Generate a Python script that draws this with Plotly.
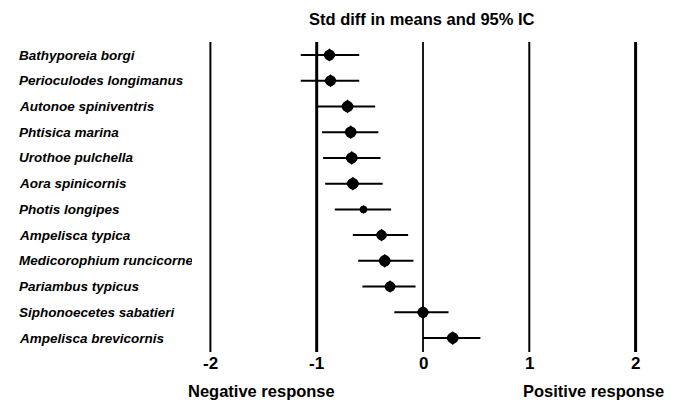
import plotly.graph_objects as go

species = ["Bathyporeia borgi", "Perioculodes longimanus", "Autonoe spiniventris",
           "Phtisica marina", "Urothoe pulchella", "Aora spinicornis", "Photis longipes",
           "Ampelisca typica", "Medicorophium runcicorne", "Pariambus typicus",
           "Siphonoecetes sabatieri", "Ampelisca brevicornis"]
means = [-0.88, -0.87, -0.71, -0.68, -0.67, -0.66, -0.56, -0.39, -0.36, -0.31, 0.0, 0.28]
lower = [-1.15, -1.15, -1.00, -0.95, -0.94, -0.92, -0.83, -0.66, -0.61, -0.57, -0.27, 0.00]
upper = [-0.60, -0.60, -0.45, -0.42, -0.40, -0.38, -0.30, -0.14, -0.09, -0.07, 0.24, 0.54]
marker_sizes = [11, 11, 11.5, 11.5, 11.5, 11.5, 7.5, 10.5, 11.5, 10.5, 11, 11.5]
tick_vals = [-2, -1, 0, 1, 2]
tick_text = ["-2", "-1", "0", "1", "2"]

rows = list(range(len(species)))
FONT = "Liberation Sans, Arial, sans-serif"

# page body has an 8px margin; figure is sized to fit inside the window
W, H, OFF = 669, 392, 8
PX_PER_UNIT, X0_PX = 106.3, 423      # window pixels
ROW_PX, ROW0_PX = 25.73, 55

def xv(px):
    return (px - X0_PX) / PX_PER_UNIT

def yv(py):
    return (py - ROW0_PX) / ROW_PX

fig = go.Figure()

widths = {-2: 2, -1: 3, 0: 1.8, 1: 2, 2: 3}
for v in tick_vals:
    fig.add_shape(type="line", x0=v, x1=v, y0=yv(42), y1=yv(352),
                  line=dict(color="black", width=widths[v]), layer="below")

for i in rows:
    fig.add_trace(go.Scatter(x=[lower[i], upper[i]], y=[i, i], mode="lines",
                             line=dict(color="black", width=2), showlegend=False,
                             hoverinfo="skip"))

fig.add_trace(go.Scatter(x=means, y=rows, mode="markers", opacity=1,
                         marker=dict(symbol="circle", size=marker_sizes, color="#000000",
                                     opacity=1, line=dict(width=0)),
                         showlegend=False, hoverinfo="skip"))
fig.add_trace(go.Scatter(x=means, y=rows, mode="markers", opacity=1,
                         marker=dict(symbol="diamond", size=[s * 0.92 for s in marker_sizes],
                                     color="#000000", opacity=1, line=dict(width=0)),
                         showlegend=False))

for i, s in enumerate(species):
    ann = dict(x=xv(17), xref="x", y=i, yref="y", text="<b><i>%s</i></b>" % s,
               showarrow=False, xanchor="left", yanchor="middle",
               font=dict(family=FONT, size=13.5, color="black"), align="left")
    if s == "Medicorophium runcicorne":
        ann["width"] = 173
    fig.add_annotation(**ann)

for v, t in zip(tick_vals, tick_text):
    fig.add_annotation(x=v, y=yv(363), xref="x", yref="y", text="<b>%s</b>" % t,
                       showarrow=False, font=dict(family=FONT, size=17, color="black"))

fig.add_annotation(x=xv(261), y=yv(391), xref="x", yref="y", text="<b>Negative response</b>",
                   showarrow=False, font=dict(family=FONT, size=16.5, color="black"))
fig.add_annotation(x=xv(593), y=yv(391), xref="x", yref="y", text="<b>Positive response</b>",
                   showarrow=False, font=dict(family=FONT, size=16.5, color="black"))
fig.add_annotation(x=xv(422), y=yv(19), xref="x", yref="y",
                   text="<b>Std diff in means and 95% IC</b>",
                   showarrow=False, font=dict(family=FONT, size=16.5, color="black"))

fig.update_layout(
    width=W, height=H, margin=dict(l=0, r=0, t=0, b=0),
    paper_bgcolor="white", plot_bgcolor="white",
    xaxis=dict(range=[xv(OFF), xv(OFF + W)], visible=False, fixedrange=True),
    yaxis=dict(range=[yv(OFF + H), yv(OFF)], visible=False, fixedrange=True),
)

fig.write_html("out.html")
